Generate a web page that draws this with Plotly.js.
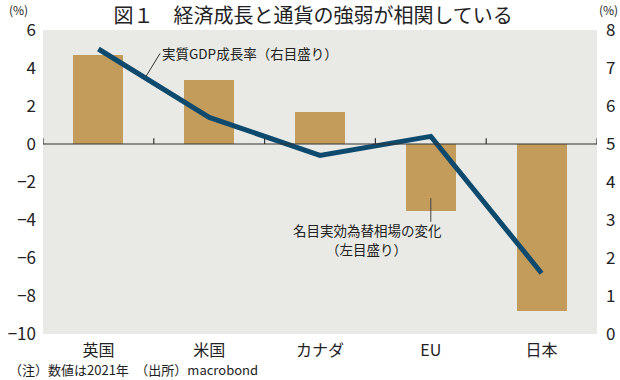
<!DOCTYPE html>
<html>
<head>
<meta charset="utf-8">
<script src="https://cdn.plot.ly/plotly-3.0.1.min.js"></script>
<style>html,body{margin:0;padding:0;background:#fff;}#chart{width:620px;height:380px;}</style>
</head>
<body>
<div id="chart"></div>
<script>
const categories = ["英国", "米国", "カナダ", "EU", "日本"];
const neerChange = [4.7, 3.35, 1.7, -3.5, -8.8];      // left axis (%)
const gdpGrowth = [7.5, 5.7, 4.7, 5.2, 1.6];          // right axis (%)
const leftTicks = [-10, -8, -6, -4, -2, 0, 2, 4, 6];
const rightTicks = [0, 1, 2, 3, 4, 5, 6, 7, 8];

const FONT = '"Noto Sans CJK JP", "Noto Sans", sans-serif';
const idx = categories.map((c, i) => i);

const traces = [
  {
    type: 'bar', x: idx, y: neerChange, yaxis: 'y',
    marker: {color: '#c39c5c'}, width: 0.45, hoverinfo: 'skip'
  },
  {
    type: 'scatter', mode: 'lines', x: idx, y: gdpGrowth, yaxis: 'y2',
    line: {color: '#0e4a6e', width: 5}, hoverinfo: 'skip'
  }
];

const shapes = [
  {type: 'line', xref: 'x', yref: 'y', x0: -0.5, x1: categories.length - 0.5, y0: 0, y1: 0,
   line: {color: '#333', width: 1.2}, layer: 'above'}
];
for (let i = 0; i <= categories.length; i++) {
  shapes.push({type: 'line', xref: 'x', yref: 'y', x0: i - 0.5, x1: i - 0.5, y0: 0, y1: 0.3,
    line: {color: '#333', width: 1.2}, layer: 'above'});
}
// leader line for exchange-rate label (EU bar)
shapes.push({type: 'line', xref: 'x', yref: 'y', x0: 3, x1: 3, y0: -2.85, y1: -4.1,
  line: {color: '#444', width: 1}, layer: 'above'});

const layout = {
  width: 620, height: 380,
  margin: {l: 43, r: 23, t: 30, b: 46},
  paper_bgcolor: '#ffffff', plot_bgcolor: '#e9eae5',
  showlegend: false,
  font: {family: FONT, color: '#222'},
  title: {text: '図１　経済成長と通貨の強弱が相関している', x: 0.505, xanchor: 'center', y: 0.958, yanchor: 'middle',
          font: {family: FONT, size: 20, color: '#222'}},
  bargap: 0,
  xaxis: {
    range: [-0.5, categories.length - 0.5], tickvals: idx, ticktext: categories,
    showgrid: false, zeroline: false, showline: false, ticks: '', ticklabelstandoff: 5,
    tickfont: {family: FONT, size: 16, color: '#222'}, fixedrange: true
  },
  yaxis: {
    range: [-10, 6], tickvals: leftTicks, showgrid: false, zeroline: false, showline: false,
    ticks: '', ticklabelstandoff: 6, tickfont: {family: FONT, size: 17, color: '#222'}
  },
  yaxis2: {
    range: [0, 8], tickvals: rightTicks, overlaying: 'y', side: 'right', showgrid: false,
    zeroline: false, showline: false, ticks: '', ticklabelstandoff: 8,
    tickfont: {family: FONT, size: 17, color: '#222'}
  },
  shapes: shapes,
  annotations: [
    {xref: 'paper', yref: 'paper', x: -0.045, y: 1.066, xanchor: 'center', yanchor: 'middle',
     text: '(%)', showarrow: false, font: {family: FONT, size: 12, color: '#222'}},
    {xref: 'paper', yref: 'paper', x: 1.02, y: 1.066, xanchor: 'center', yanchor: 'middle',
     text: '(%)', showarrow: false, font: {family: FONT, size: 12, color: '#222'}},
    {xref: 'x', yref: 'y2', x: 0.43, y: 6.78, ax: 14, ay: -23, xanchor: 'left', yanchor: 'middle',
     text: '実質GDP成長率（右目盛り）', showarrow: true, arrowhead: 0, arrowwidth: 1, arrowcolor: '#333',
     font: {family: FONT, size: 13.5, color: '#222'}},
    {xref: 'x', yref: 'y', x: 2.43, y: -4.55, xanchor: 'center', yanchor: 'middle',
     text: '名目実効為替相場の変化', showarrow: false,
     font: {family: FONT, size: 13.5, color: '#222'}},
    {xref: 'x', yref: 'y', x: 2.42, y: -5.55, xanchor: 'center', yanchor: 'middle',
     text: '（左目盛り）', showarrow: false,
     font: {family: FONT, size: 13.5, color: '#222'}},
    {xref: 'paper', yref: 'paper', x: -0.065, y: -0.118, xanchor: 'left', yanchor: 'middle',
     text: '（注）数値は2021年　（出所）macrobond', showarrow: false,
     font: {family: FONT, size: 13, color: '#222'}}
  ]
};

Plotly.newPlot('chart', traces, layout, {displayModeBar: false, staticPlot: true});
</script>
</body>
</html>
